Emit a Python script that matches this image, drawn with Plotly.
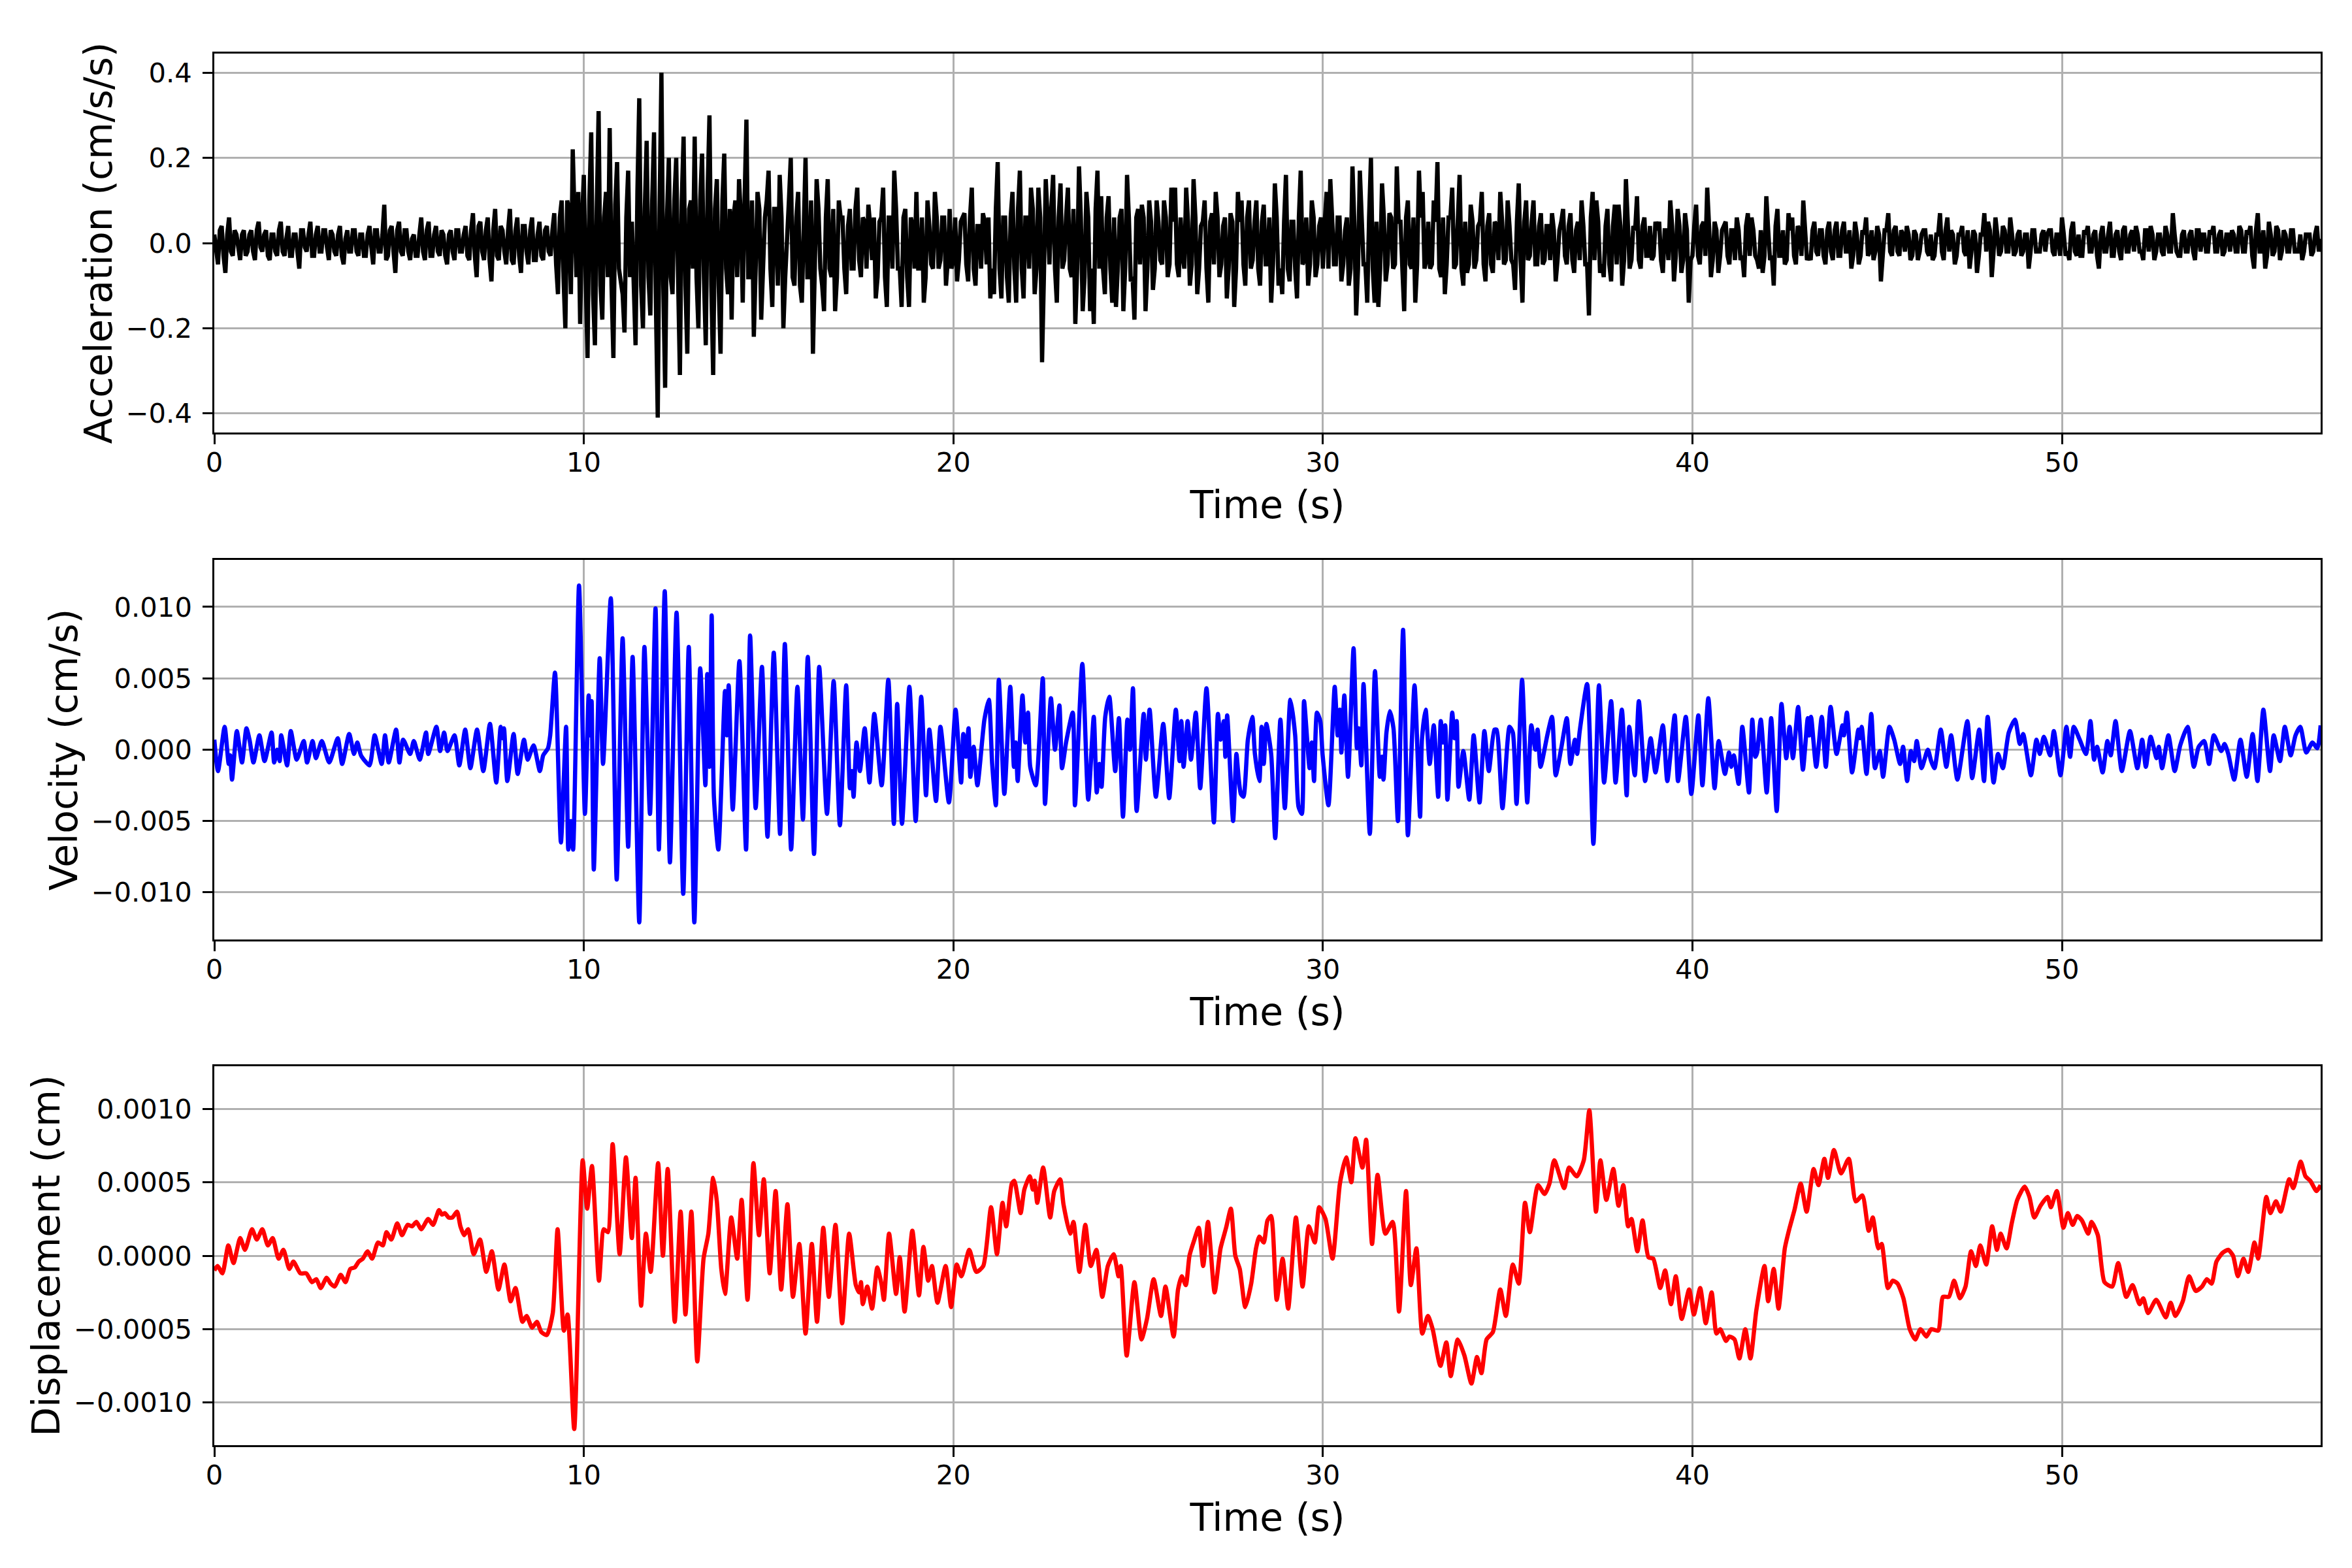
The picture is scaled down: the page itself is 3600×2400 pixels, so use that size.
import numpy as np
import plotly.graph_objects as go
from plotly.subplots import make_subplots

FONT = "DejaVu Sans"

# acceleration, read every 0.1 s, in 0.01 cm/s/s (one row per second)
ACC_DT = 0.1
ACC_CENTI = [
    2, -5, 4, -7, 6, -3, 2, -4, 3, -2,
    3, -4, 5, -2, 3, -4, 2, -3, 5, -3,
    4, -3, 2, -6, 3, -2, 5, -3, 4, -2,
    3, -4, 2, -3, 4, -5, 3, -2, 3, -3,
    2, -3, 4, -5, 3, -2, 9, -3, 4, -7,
    5, -3, 3, -4, 2, -3, 6, -4, 5, -3,
    4, -3, 2, -5, 3, -4, 3, -2, 4, -4,
    7, -8, 5, -4, 6, -9, 8, -4, 3, -5,
    8, -5, 6, -7, 4, -5, 6, -4, 5, -4,
    4, -3, 7, -12, 10, -20, 8, 22, -8, -19,
    16, -27, 26, -24, 31, -18, 12, 27, -27, 19,
    -9, -21, 17, 5, -24, 34, -20, 24, -17, 26,
    -41, 40, -34, 20, -12, 20, -31, 25, -26, 10,
    25, -20, 21, -24, 30, -31, 15, -26, 21, -12,
    -18, 10, 15, -14, 29, -8, -22, 12, -18, 6,
    17, -15, 8, 16, -20, 4, 20, -10, 12, -14,
    20, -8, -26, 15, -6, -16, 15, -8, -16, 10,
    6, -12, 8, -6, 13, -8, 5, 9, -4, -13,
    5, 13, -15, 6, 17, -6, -15, 8, -15, 4,
    12, -6, -14, 10, -5, 12, -6, 6, -10, 8,
    -4, -9, 5, 7, -9, 13, -10, 4, 7, -5,
    -13, -12, 19, -13, 6, -14, 12, -14, 17, -13,
    6, 13, -12, 13, -28, 15, -5, 16, -14, 14,
    -4, 13, -8, -19, 18, -16, 12, -16, -19, 17,
    11, -12, 11, -14, -15, 6, -16, 16, -9, -18,
    8, 9, -16, 10, -11, 10, -4, 10, -8, 13,
    13, -8, -3, 13, -10, 15, -12, 4, 10, -14,
    7, 12, -8, 4, -13, 7, -15, 12, 10, -10,
    10, -4, 10, -10, 9, -5, -14, 14, -10, -12,
    16, -9, 5, -13, 17, -4, -10, 10, -8, 4,
    -6, 12, 15, -5, 6, -9, 3, -10, 18, -17,
    17, -5, -14, 20, -14, -15, 14, -9, 7, -6,
    18, 5, -16, 10, -6, -14, 17, 12, -4, -6,
    10, 19, -8, -12, 6, 13, -5, 16, -10, -7,
    9, -6, 4, 12, -9, 7, -7, 4, 12, -5,
    10, -4, -11, 14, -14, 10, -3, 10, -5, 7,
    -4, 4, 7, -9, 3, 8, -5, 7, -7, 5,
    10, -5, -17, 12, 10, -7, -8, 8, -9, 9,
    9, -10, 15, -6, 4, 11, -6, 6, -3, -4,
    5, 5, -7, 3, 10, -9, 8, -7, 7, -14,
    -3, 9, -5, 5, 13, -8, 5, -7, 3, 5,
    -5, 3, 6, -4, -8, 7, 6, -3, -6, -7,
    11, -4, -10, 8, -3, -5, 7, 6, -5, 3,
    10, -4, -4, 5, -3, 3, -5, 5, -4, 5,
    -3, 5, -2, -6, 5, -5, 3, 6, -2, -4,
    4, -9, 3, 7, -3, 4, -3, 2, 4, -4,
    3, -4, 2, 3, -3, -4, 2, 7, -4, 6,
    3, -5, 2, 4, -3, -6, 3, -7, 2, 7,
    5, -8, 6, -3, 4, -2, 6, -3, 2, -3,
    2, -6, 3, -2, -2, 3, 2, 3, -3, 2,
    6, -3, -4, 5, -3, -3, 3, 4, -2, 3,
    -6, 4, -2, 5, -3, 3, -4, 4, -2, 3,
    4, -2, -4, 3, 4, -4, 2, -2, 4, -2,
    7, -2, -3, 3, -2, 3, -4, 3, 2, -2,
    3, 4, -2, 3, -2, 2, 3, -2, 4, -2,
    3, 4, -6, 7, -2, -6, 5, -3, 4, -4,
    3, -2, 3, -2, -2, -4, 2, 2, -2, 4,
    1,
]

# dense core of the acceleration trace, read half a step (0.05 s) later
ACC_MID_CENTI = [
    -2, 3, -3, 2, -2, 3, -1, 2, -3, 2,
    -2, 3, -1, 2, -3, 2, -2, 3, -2, 1,
    -3, 2, -2, 3, -1, 2, -3, 2, -2, 3,
    -1, 3, -2, 2, -3, 1, -2, 3, -2, 2,
    -3, 2, -1, 3, -2, 2, -4, 3, -2, 3,
    -2, 3, -2, 1, -3, 2, -2, 3, -3, 2,
    -2, 3, -3, 2, -2, 3, -2, 2, -3, 3,
    -3, 4, -2, 3, -4, 3, -3, 4, -2, 3,
    -4, 3, -3, 4, -2, 3, -4, 2, -3, 3,
    -2, 3, -5, 6, -8, 10, -12, 6, 12, 5,
    -8, 10, -12, 8, -10, 6, -8, -10, 9, -6,
    -12, 6, -8, -10, 12, -10, 8, -8, 10, -14,
    8, -10, 6, -8, 10, -8, 10, -10, 8, -6,
    -8, 10, -8, 12, -10, 8, -10, 10, -6, 8,
    6, -8, 6, 10, -8, 10, -6, 8, -6, 10,
    -6, 8, -10, 6, -8, 10, -8, 6, -10, 8,
    -8, 10, -6, 8, -10, 6, -6, 8, -8, 6,
    -6, 4, -6, 8, -4, 6, -6, 4, 6, -8,
    6, -8, 6, -6, 8, -6, 6, -8, 6, -6,
    -6, 6, -8, 4, -6, 6, -4, 6, -4, -6,
    6, -4, 6, -5, 6, -6, 4, -6, 5, 6,
    -6, 8, -6, 6, -8, 6, -6, 8, -6, 6,
    -6, 8, -6, 6, -8, 6, 8, -6, 6, -6,
    6, -6, 8, -6, 6, -8, 6, -6, 8, -6,
    -6, 6, -6, 6, -6, 8, -6, 6, -8, 6,
    -5, 6, -6, 5, -6, 5, -5, 6, -5, 5,
    -5, 6, -6, 5, -5, 6, -6, 5, -6, 5,
    -5, 6, -5, 6, -6, 5, -6, 5, -5, 6,
    -6, 5, -6, 5, -5, 6, -5, 6, -6, 5,
    -6, 5, -6, 6, -5, 6, -5, 6, -5, 6,
    5, -6, 6, -5, 6, -5, 6, -6, 5, -6,
    6, -5, 6, -6, 5, -6, 6, -5, 6, -5,
    5, -6, 6, -5, 6, -5, 6, -6, 5, -5,
    5, -6, 6, -5, 6, -6, 5, -6, 5, -5,
    5, -4, 5, -5, 4, -5, 5, -4, 5, -4,
    4, -5, 5, -4, 5, -4, 5, -5, 4, -5,
    4, -4, 3, -4, 5, -3, 4, -4, 3, -4,
    4, -5, 6, -4, 5, -5, 4, -5, 4, -5,
    4, -4, 5, -4, 3, -4, 4, -3, 4, -3,
    3, -4, 3, -4, 4, -3, 4, -4, 3, -4,
    4, -3, 4, -3, 4, -4, 3, -3, 4, -3,
    3, -4, 3, -3, 4, -3, 3, -4, 3, -3,
    3, -3, 4, -3, 3, -4, 3, -3, 4, -3,
    3, -3, 3, -2, 3, -3, 3, -2, 3, -3,
    3, -2, 3, -3, 2, -3, 2, -3, 3, -2,
    2, -3, 3, -2, 3, -2, 3, -2, 2, -3,
    2, -2, 3, -2, 2, -3, 2, -2, 3, -2,
    2, -3, 2, -2, 3, -2, 2, -3, 2, -2,
    3, -2, 2, -2, 3, -2, 2, -2, 3, -2,
    2, -2, 3, -2, 2, -2, 3, -2, 2, -3,
    2, -2, 3, -2, 2, -3, 2, -2, 2, -3,
    2, -2, 2, -3, 2, -2, 3, -2, 2, -2,
    2, -2, 3, -2, 2, -2, 2, -3, 2, -2,
    2, -3, 2, -2, 2, -2, 3, -2, 2, -2,
    2, -2, 2, -3, 2, -2, 2, -2, 3, -2,
    2, -3, 3, -2, 3, -3, 2, -2, 3, -2,
    2, -2, 3, -2, 2, -2, 2, -3, 2, -2,
]

# velocity turning points: (time s, value in 1e-4 cm/s)
VEL_SAMPLES = [
    (0.0, 7), (0.1, -15), (0.28, 16), (0.39, -10), (0.43, -4), (0.48, -21),
    (0.61, 13), (0.75, -9), (0.87, 15), (0.96, 6), (1.06, -9), (1.22, 10),
    (1.36, -8), (1.55, 12), (1.62, -9), (1.7, 0), (1.77, -8), (1.81, 10),
    (1.97, -11), (2.07, 13), (2.23, -7), (2.42, 6), (2.51, -9), (2.66, 6),
    (2.75, -6), (2.91, 6), (3.11, -9), (3.34, 8), (3.46, -10), (3.65, 11),
    (3.78, -3), (3.87, 5), (3.97, -4), (4.2, -11), (4.34, 10), (4.53, -10),
    (4.62, 10), (4.72, -9), (4.92, 14), (5.01, -9), (5.11, 7), (5.3, -3),
    (5.4, 6), (5.56, -7), (5.73, 12), (5.79, -3), (6.01, 16), (6.11, -1),
    (6.22, 12), (6.31, -1), (6.5, 10), (6.63, -11), (6.79, 14), (6.93, -13),
    (7.11, 14), (7.28, -15), (7.46, 18), (7.63, -23), (7.75, 16), (7.8, 8),
    (7.84, 15), (7.93, -22), (8.1, 11), (8.21, -17), (8.38, 7), (8.48, -7),
    (8.64, 3), (8.81, -15), (8.9, -4), (9.03, 1), (9.09, 10), (9.22, 54),
    (9.38, -65), (9.52, 16), (9.58, -70), (9.65, -50), (9.71, -70), (9.87, 115),
    (10.03, -45), (10.13, 38), (10.17, 10), (10.21, 34), (10.27, -84), (10.43, 64),
    (10.52, -10), (10.73, 106), (10.89, -91), (11.05, 78), (11.2, -68), (11.32, 65),
    (11.5, -121), (11.64, 72), (11.79, -45), (11.94, 99), (12.03, -70), (12.19, 111),
    (12.33, -79), (12.51, 96), (12.69, -101), (12.84, 72), (12.99, -121), (13.15, 57),
    (13.29, -25), (13.34, 53), (13.4, -12), (13.46, 94), (13.52, -33), (13.64, -70),
    (13.82, 41), (13.87, 10), (13.92, 45), (14.03, -42), (14.21, 62), (14.39, -70),
    (14.5, 80), (14.65, -41), (14.82, 58), (14.97, -61), (15.14, 68), (15.31, -59),
    (15.44, 74), (15.61, -70), (15.78, 44), (15.93, -49), (16.06, 65), (16.23, -73),
    (16.37, 58), (16.58, -45), (16.76, 48), (16.93, -53), (17.1, 45), (17.2, -27),
    (17.25, -15), (17.3, -33), (17.38, 5), (17.47, -15), (17.6, 15), (17.73, -23),
    (17.86, 25), (18.06, -25), (18.24, 49), (18.39, -52), (18.48, 32), (18.61, -52),
    (18.81, 44), (18.98, -50), (19.13, 37), (19.26, -32), (19.35, 14), (19.53, -36),
    (19.65, 16), (19.88, -37), (20.06, 28), (20.21, -23), (20.27, 11), (20.34, -5),
    (20.41, 15), (20.46, -19), (20.55, 2), (20.65, -25), (20.84, 21), (20.96, 35),
    (21.05, -10), (21.15, -39), (21.23, 49), (21.38, -31), (21.54, 44), (21.64, -12),
    (21.69, 5), (21.74, -22), (21.87, 38), (21.95, 5), (22.02, 26), (22.08, -12),
    (22.23, -25), (22.42, 50), (22.48, -38), (22.64, 36), (22.75, 0), (22.87, 31),
    (22.94, -13), (23.05, 5), (23.23, 26), (23.29, -39), (23.49, 60), (23.65, -35),
    (23.8, 23), (23.88, -30), (23.95, -10), (24.01, -26), (24.11, 23), (24.22, 37),
    (24.38, -15), (24.48, 22), (24.59, -47), (24.71, 21), (24.78, 0), (24.86, 43),
    (24.96, -43), (25.15, 25), (25.21, -7), (25.31, 28), (25.48, -33), (25.68, 18),
    (25.84, -34), (26.02, 28), (26.12, -8), (26.17, 20), (26.23, -12), (26.34, 20),
    (26.43, -7), (26.56, 26), (26.68, -27), (26.85, 43), (27.05, -51), (27.16, 25),
    (27.23, 7), (27.32, 20), (27.36, -5), (27.41, 24), (27.57, -50), (27.66, -3),
    (27.72, -20), (27.78, -31), (27.85, -33), (27.97, 7), (28.09, 23), (28.16, -3),
    (28.28, -22), (28.34, 16), (28.4, -10), (28.47, 18), (28.6, -3), (28.71, -62),
    (28.85, 21), (28.97, -41), (29.12, 35), (29.25, 10), (29.34, -40), (29.43, -45),
    (29.49, 34), (29.64, -13), (29.7, 5), (29.76, -22), (29.84, 26), (29.93, 20),
    (29.99, -3), (30.15, -39), (30.32, 44), (30.4, 10), (30.46, 28), (30.5, -2),
    (30.58, 38), (30.68, -19), (30.83, 71), (30.92, 1), (30.97, 15), (31.04, -11),
    (31.1, 46), (31.27, -59), (31.41, 55), (31.54, -19), (31.6, -5), (31.64, -21),
    (31.72, 12), (31.81, 27), (31.91, 15), (32.03, -50), (32.17, 84), (32.3, -60),
    (32.48, 45), (32.63, -47), (32.68, 7), (32.78, 28), (32.89, -10), (33.0, 17),
    (33.12, -33), (33.19, 20), (33.25, 5), (33.31, 17), (33.37, -35), (33.5, 26),
    (33.56, 8), (33.62, 20), (33.67, -26), (33.8, -1), (33.96, -35), (34.08, 10),
    (34.24, -37), (34.37, 13), (34.49, -15), (34.64, 14), (34.7, 14), (34.86, -41),
    (35.05, 16), (35.14, 12), (35.24, -38), (35.39, 49), (35.53, -37), (35.64, 17),
    (35.75, 0), (35.81, 14), (35.89, -12), (36.08, 11), (36.2, 23), (36.3, -18),
    (36.45, 1), (36.6, 22), (36.7, -10), (36.82, 7), (36.88, -3), (36.95, 13),
    (37.15, 46), (37.32, -66), (37.47, 45), (37.61, -23), (37.8, 34), (37.92, -23),
    (38.09, 28), (38.22, -32), (38.29, 16), (38.44, -18), (38.55, 34), (38.72, -22),
    (38.87, 8), (39.0, -16), (39.2, 17), (39.32, -22), (39.52, 24), (39.61, -22),
    (39.82, 23), (39.97, -31), (40.16, 24), (40.27, -25), (40.43, 36), (40.6, -27),
    (40.71, 6), (40.88, -17), (40.99, -2), (41.05, -12), (41.12, -4), (41.25, -24),
    (41.35, 16), (41.53, -30), (41.62, 21), (41.7, -5), (41.75, -2), (41.85, 21),
    (42.01, -30), (42.13, 22), (42.28, -43), (42.41, 32), (42.54, -6), (42.63, 16),
    (42.72, -6), (42.86, 30), (42.99, -14), (43.12, 22), (43.16, 10), (43.21, 23),
    (43.35, -12), (43.5, 23), (43.61, -12), (43.74, 30), (43.9, -3), (44.06, 17),
    (44.1, 10), (44.18, 26), (44.32, -16), (44.49, 14), (44.53, 8), (44.58, 16),
    (44.71, -17), (44.84, 25), (44.94, -13), (45.07, -1), (45.16, -19), (45.33, 16),
    (45.46, 7), (45.62, -10), (45.7, 2), (45.81, -22), (45.91, -1), (46.0, -8),
    (46.07, 6), (46.2, -13), (46.37, 0), (46.46, -8), (46.55, -13), (46.72, 14),
    (46.87, -12), (47.0, 10), (47.17, -21), (47.44, 20), (47.57, -20), (47.76, 14),
    (47.89, -22), (47.99, 23), (48.15, -23), (48.27, -3), (48.4, -13), (48.56, 12),
    (48.73, 21), (48.86, 4), (48.95, 11), (49.16, -18), (49.31, 7), (49.4, -3),
    (49.51, 9), (49.68, -4), (49.78, 13), (49.96, -18), (50.12, 16), (50.22, -5),
    (50.32, 16), (50.48, 7), (50.65, -3), (50.77, 20), (50.87, -7), (50.95, 2),
    (51.1, -16), (51.23, 6), (51.32, -4), (51.45, 20), (51.62, -15), (51.84, 13),
    (52.04, -13), (52.17, 7), (52.27, -12), (52.4, 9), (52.56, -6), (52.62, 2),
    (52.71, -13), (52.88, 10), (53.05, -15), (53.2, 3), (53.4, 16), (53.57, -12),
    (53.7, 2), (53.85, 6), (53.98, -10), (54.11, 10), (54.31, -1), (54.4, 4),
    (54.5, -3), (54.66, -21), (54.83, 7), (55.0, -19), (55.16, 11), (55.29, -22),
    (55.45, 28), (55.63, -15), (55.73, 10), (55.9, -8), (56.03, 16), (56.19, -4),
    (56.32, 10), (56.45, 16), (56.61, -2), (56.78, 5), (56.91, 1), (57.0, 17),
]

# displacement turning points: (time s, value in 1e-5 cm)
DISP_SAMPLES = [
    (0.0, -10), (0.09, -7), (0.22, -12), (0.38, 7), (0.52, -5), (0.7, 12),
    (0.83, 4), (1.02, 18), (1.15, 11), (1.3, 18), (1.45, 7), (1.58, 12),
    (1.74, -2), (1.87, 4), (2.03, -9), (2.14, -4), (2.33, -12), (2.49, -12),
    (2.64, -18), (2.76, -16), (2.88, -22), (3.04, -15), (3.15, -19), (3.26, -21),
    (3.42, -13), (3.55, -18), (3.68, -9), (3.8, -8), (3.91, -4), (4.02, -2),
    (4.15, 3), (4.27, -2), (4.43, 9), (4.56, 7), (4.66, 16), (4.79, 11),
    (4.95, 22), (5.08, 14), (5.23, 21), (5.35, 20), (5.47, 23), (5.6, 18),
    (5.79, 25), (5.92, 21), (6.08, 31), (6.16, 28), (6.24, 29), (6.34, 26),
    (6.44, 26), (6.57, 30), (6.66, 20), (6.76, 14), (6.87, 18), (7.02, 1),
    (7.19, 11), (7.36, -11), (7.51, 3), (7.69, -23), (7.85, -6), (8.02, -31),
    (8.15, -22), (8.34, -45), (8.45, -41), (8.6, -49), (8.73, -45), (8.85, -52),
    (9.0, -54), (9.16, -39), (9.29, 18), (9.46, -51), (9.56, -40), (9.74, -118),
    (9.97, 65), (10.09, 32), (10.22, 61), (10.41, -17), (10.54, 18), (10.65, 16),
    (10.78, 76), (10.97, 1), (11.14, 67), (11.3, 12), (11.4, 53), (11.55, -34),
    (11.68, 15), (11.81, -11), (12.01, 63), (12.14, 0), (12.27, 59), (12.46, -45),
    (12.62, 30), (12.75, -40), (12.91, 30), (13.07, -72), (13.24, -2), (13.37, 15),
    (13.5, 53), (13.6, 37), (13.72, -9), (13.82, -26), (13.99, 26), (14.15, -2),
    (14.27, 38), (14.43, -30), (14.59, 63), (14.74, 14), (14.87, 52), (15.03, -12),
    (15.19, 44), (15.34, -23), (15.51, 35), (15.66, -28), (15.83, 8), (16.0, -53),
    (16.17, 8), (16.31, -45), (16.48, 19), (16.63, -28), (16.81, 21), (16.99, -46),
    (17.18, 15), (17.36, -20), (17.45, -25), (17.5, -18), (17.55, -33), (17.67, -21),
    (17.8, -36), (17.94, -8), (18.06, -20), (18.12, -30), (18.26, 15), (18.45, -26),
    (18.55, -1), (18.68, -38), (18.89, 17), (19.07, -27), (19.19, 6), (19.32, -17),
    (19.42, -7), (19.57, -32), (19.79, -7), (19.94, -35), (20.09, -6), (20.22, -14),
    (20.43, 4), (20.62, -11), (20.81, -7), (21.02, 33), (21.18, 1), (21.33, 36),
    (21.43, 20), (21.58, 49), (21.65, 51), (21.82, 29), (21.92, 45), (22.07, 54),
    (22.15, 45), (22.2, 51), (22.27, 36), (22.43, 60), (22.62, 26), (22.73, 44),
    (22.89, 52), (22.98, 35), (23.16, 15), (23.25, 23), (23.41, -11), (23.57, 21),
    (23.72, -7), (23.87, 4), (24.03, -28), (24.18, -7), (24.34, 1), (24.47, -14),
    (24.53, -7), (24.69, -68), (24.9, -18), (25.09, -57), (25.24, -43), (25.42, -16),
    (25.62, -41), (25.74, -21), (25.96, -55), (26.08, -23), (26.18, -14), (26.29, -20),
    (26.39, 0), (26.51, 10), (26.64, 19), (26.76, -7), (26.89, 23), (27.07, -25),
    (27.23, 5), (27.38, 19), (27.51, 32), (27.63, 0), (27.75, -9), (27.9, -35),
    (28.06, -19), (28.19, 5), (28.28, 13), (28.4, 9), (28.5, 24), (28.6, 27),
    (28.75, -30), (28.91, -2), (29.06, -36), (29.27, 26), (29.45, -21), (29.62, 20),
    (29.78, 9), (29.9, 33), (30.07, 25), (30.26, -2), (30.46, 49), (30.63, 67),
    (30.77, 50), (30.88, 80), (31.07, 60), (31.17, 79), (31.33, 8), (31.48, 55),
    (31.69, 15), (31.89, 23), (32.06, -38), (32.25, 44), (32.38, -20), (32.53, 5),
    (32.69, -53), (32.84, -41), (32.97, -50), (33.18, -75), (33.34, -59), (33.46, -82),
    (33.65, -57), (33.83, -68), (34.02, -87), (34.17, -69), (34.29, -80), (34.43, -57),
    (34.6, -52), (34.8, -23), (34.95, -41), (35.14, -6), (35.3, -19), (35.47, 36),
    (35.6, 16), (35.82, 48), (36.0, 42), (36.13, 49), (36.26, 65), (36.53, 46),
    (36.66, 60), (36.87, 54), (37.06, 65), (37.21, 99), (37.39, 30), (37.51, 65),
    (37.67, 38), (37.86, 59), (38.0, 34), (38.13, 48), (38.26, 20), (38.35, 25),
    (38.51, 3), (38.65, 24), (38.81, -1), (38.94, -2), (39.13, -22), (39.26, -10),
    (39.42, -33), (39.55, -14), (39.71, -43), (39.91, -23), (40.04, -40), (40.21, -22),
    (40.36, -46), (40.52, -25), (40.65, -53), (40.75, -50), (40.91, -58), (41.0, -55),
    (41.14, -57), (41.27, -70), (41.43, -50), (41.57, -70), (41.73, -37), (41.95, -7),
    (42.05, -31), (42.2, -9), (42.33, -36), (42.5, 5), (42.63, 19), (42.76, 31),
    (42.93, 49), (43.09, 30), (43.28, 59), (43.41, 48), (43.57, 66), (43.67, 53),
    (43.83, 72), (44.02, 56), (44.23, 66), (44.42, 37), (44.6, 41), (44.77, 17),
    (44.88, 26), (45.03, 5), (45.12, 8), (45.29, -22), (45.42, -17), (45.55, -19),
    (45.71, -29), (45.88, -50), (46.03, -57), (46.17, -50), (46.33, -55), (46.46, -50),
    (46.65, -51), (46.78, -28), (46.94, -28), (47.08, -17), (47.24, -29), (47.39, -21),
    (47.54, 3), (47.67, -7), (47.79, 7), (47.95, -6), (48.11, 20), (48.24, 4),
    (48.34, 15), (48.5, 5), (48.64, 22), (48.79, 38), (48.99, 47), (49.12, 40),
    (49.25, 26), (49.42, 34), (49.61, 40), (49.7, 33), (49.86, 44), (50.04, 19),
    (50.16, 29), (50.29, 21), (50.41, 27), (50.54, 24), (50.71, 15), (50.8, 23),
    (50.97, 14), (51.15, -18), (51.36, -21), (51.52, -5), (51.74, -28), (51.91, -20),
    (52.1, -33), (52.2, -29), (52.33, -39), (52.55, -30), (52.81, -42), (52.94, -32),
    (53.07, -41), (53.27, -31), (53.44, -14), (53.62, -24), (53.79, -21), (53.92, -16),
    (54.05, -19), (54.18, -4), (54.35, 2), (54.5, 4), (54.63, 0), (54.76, -14),
    (54.91, -2), (55.04, -11), (55.21, 9), (55.31, -2), (55.53, 40), (55.64, 29),
    (55.79, 37), (55.92, 30), (56.15, 52), (56.26, 46), (56.46, 64), (56.59, 54),
    (56.72, 51), (56.89, 44), (57.0, 48),
]

T_END = 57.0
ACC_LIM = 0.445
VEL_LIM = 0.0133
DISP_LIM = 0.00129


def prepare_data():
    # weave the on-step and half-step readings into one 0.05 s series
    acc = np.empty(len(ACC_CENTI) + len(ACC_MID_CENTI))
    acc[0::2] = ACC_CENTI
    acc[1::2] = ACC_MID_CENTI
    acc = acc * 0.01
    acc_t = np.arange(len(acc)) * (ACC_DT / 2)
    vel_t, vel = zip(*VEL_SAMPLES)
    disp_t, disp = zip(*DISP_SAMPLES)
    return (
        (acc_t, acc),
        (np.array(vel_t), np.array(vel) * 1e-4),
        (np.array(disp_t), np.array(disp) * 1e-5),
    )


def main() -> None:
    panels = prepare_data()
    fig = make_subplots(rows=3, cols=1)

    colors = ["black", "blue", "red"]
    shapes = ["linear", "spline", "spline"]
    for i, ((t, y), color, shape) in enumerate(zip(panels, colors, shapes), start=1):
        fig.add_trace(
            go.Scatter(x=t, y=y, mode="lines",
                       line=dict(color=color, width=6.5, shape=shape, smoothing=0.6),
                       showlegend=False),
            row=i, col=1,
        )

    axis_style = dict(
        showline=True, mirror=True, linecolor="black", linewidth=3.3,
        showgrid=True, gridcolor="#b0b0b0", gridwidth=3.3, zeroline=False,
        ticks="outside", ticklen=14.6, tickwidth=3.3, tickcolor="black",
        tickfont=dict(family=FONT, size=41.7, color="black"),
    )
    title_font = dict(family=FONT, size=58.3, color="black")

    for i in range(1, 4):
        fig.update_xaxes(
            range=[0, T_END], dtick=10, tick0=0, ticklabelstandoff=-8,
            title=dict(text="Time (s)", font=title_font, standoff=22),
            row=i, col=1, **axis_style,
        )

    domains = [[0.7277, 1.0], [0.3634, 0.6362], [0.0, 0.2723]]
    y_setup = [
        ("Acceleration (cm/s/s)", ACC_LIM, 0.2, ".1f"),
        ("Velocity (cm/s)", VEL_LIM, 0.005, ".3f"),
        ("Displacement (cm)", DISP_LIM, 0.0005, ".4f"),
    ]
    for i, (label, lim, step, fmt) in enumerate(y_setup, start=1):
        fig.update_yaxes(
            range=[-lim, lim], dtick=step, tick0=0, tickformat=fmt,
            domain=domains[i - 1], ticklabelstandoff=8,
            title=dict(text=label, font=title_font, standoff=3),
            row=i, col=1, **axis_style,
        )

    # the page body has an 8 px margin, so the figure is 16 px smaller
    fig.update_layout(
        template="none",
        width=3584, height=2384,
        margin=dict(l=320, r=40, t=74, b=180),
        paper_bgcolor="white", plot_bgcolor="white",
        font=dict(family=FONT, color="black"),
    )
    fig.write_html("out.html")


if __name__ == "__main__":
    main()
